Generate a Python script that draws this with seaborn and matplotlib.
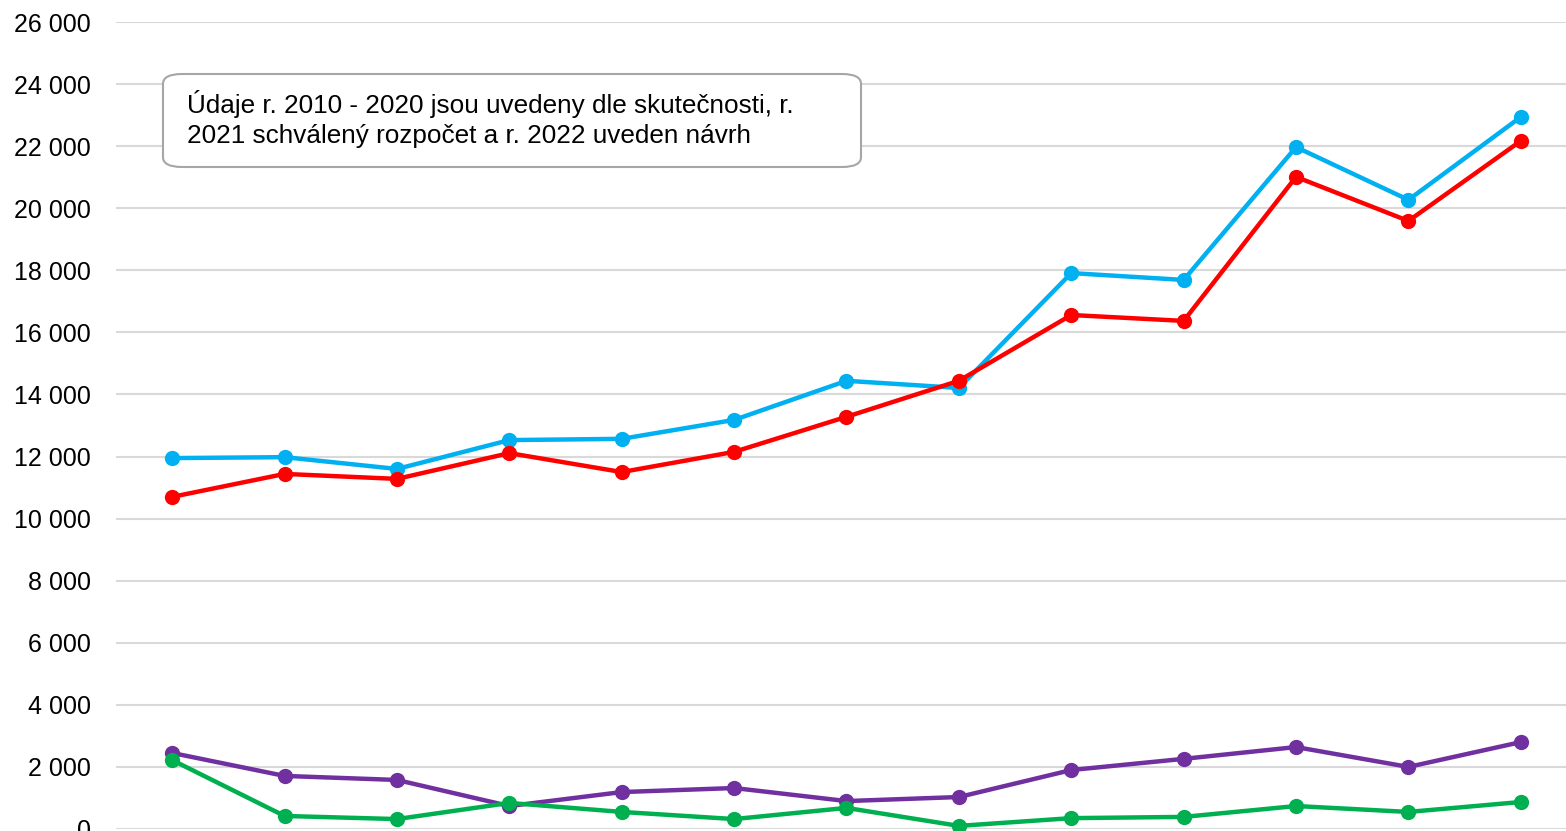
import numpy as np
import pandas as pd
import seaborn as sns
from matplotlib import pyplot as plt
from matplotlib.patches import FancyBboxPatch

# values (2010-2022)
years = list(range(2010, 2023))
blue_vals = [11950, 11980, 11600, 12530, 12570, 13180, 14440, 14210, 17910, 17690, 21970, 20270, 22940]
red_vals = [10700, 11440, 11280, 12110, 11500, 12150, 13280, 14440, 16560, 16370, 21010, 19590, 22170]
purple_vals = [2450, 1710, 1580, 740, 1190, 1320, 900, 1030, 1900, 2260, 2640, 2000, 2800]
green_vals = [2220, 420, 320, 840, 550, 320, 680, 100, 350, 390, 740, 550, 870]
series_names = ['blue', 'red', 'purple', 'green']
y_ticks = list(range(0, 26001, 2000))
note = 'Údaje r. 2010 - 2020 jsou uvedeny dle skutečnosti, r.\n2021 schválený rozpočet a r. 2022 uveden návrh'

df = pd.DataFrame({
    'year': years * 4,
    'value': blue_vals + red_vals + purple_vals + green_vals,
    'series': [s for s in series_names for _ in years],
})

sns.set_style('white')
plt.rcParams['font.family'] = ['Liberation Sans', 'DejaVu Sans']
plt.rcParams['text.color'] = 'black'
plt.rcParams['ytick.color'] = 'black'

fig = plt.figure(figsize=(15.66, 8.31), dpi=100)
ax = fig.add_axes([116 / 1566, 2 / 831, 1461 / 1566, 807 / 831])

palette = {'blue': '#00B0F0', 'red': '#FF0000', 'purple': '#7030A0', 'green': '#00B050'}
sns.lineplot(data=df, x='year', y='value', hue='series', palette=palette, marker='o',
             markersize=11, markeredgewidth=0, linewidth=3.2, legend=False, ax=ax, clip_on=False)

ax.set_xlim(2009.5, 2022.5)
ax.set_ylim(0, 26000)
ax.set_yticks(y_ticks)
ax.set_yticklabels([f'{v:,}'.replace(',', ' ') for v in y_ticks], fontsize=18, color='black')
ax.set_xticks([])
ax.set_xlabel('')
ax.set_ylabel('')
ax.tick_params(axis='y', length=0, pad=18)
ax.yaxis.grid(True, color='#D9D9D9', linewidth=1.5)
ax.set_axisbelow(True)
for s in ax.spines.values():
    s.set_visible(False)

# note box
box = FancyBboxPatch((163 / 1566, 1 - 167 / 831), 698 / 1566, 93 / 831,
                     boxstyle='round,pad=0,rounding_size=0.012', transform=fig.transFigure,
                     facecolor='white', edgecolor='#A6A6A6', linewidth=1.5, zorder=5)
fig.patches.append(box)
fig.text(187 / 1566, 1 - 119 / 831, note, fontsize=18.8, va='center', ha='left',
         linespacing=1.32, color='black', zorder=6)

plt.savefig('out.png', dpi=100)
